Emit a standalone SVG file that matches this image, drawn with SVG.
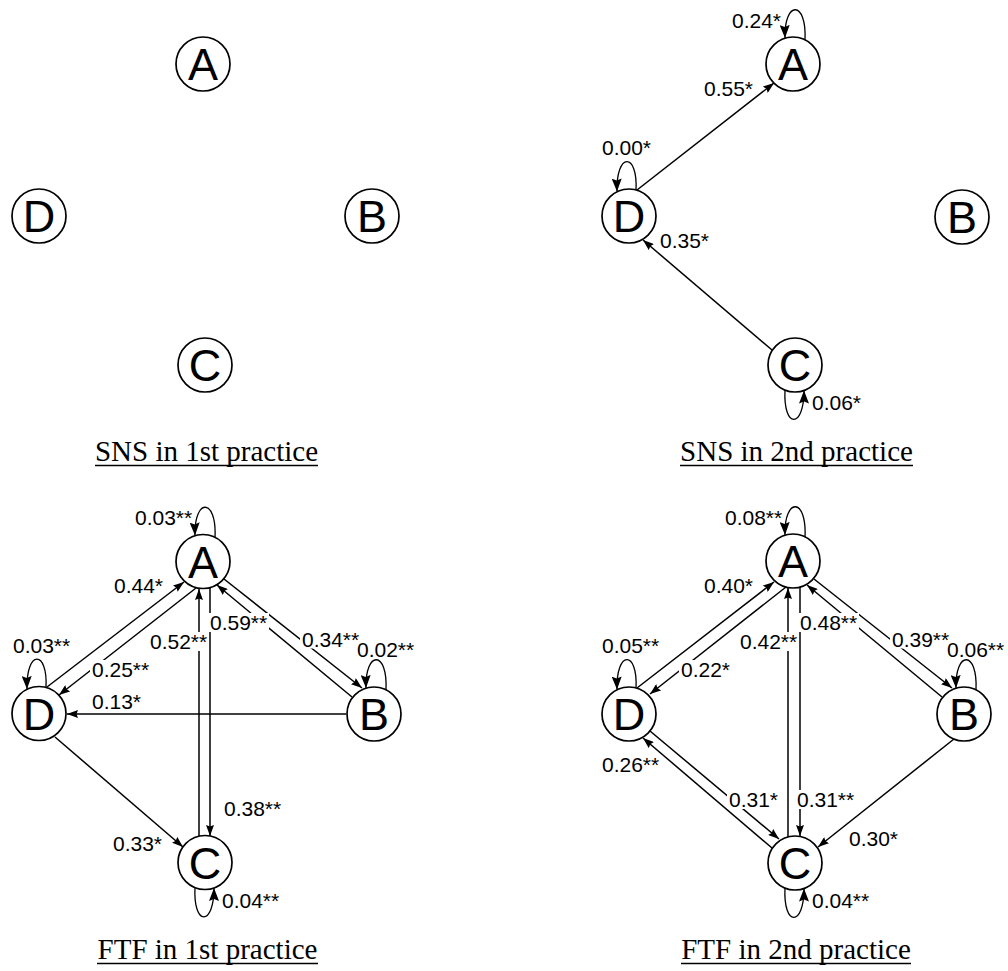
<svg xmlns="http://www.w3.org/2000/svg" width="1008" height="971" viewBox="0 0 1008 971">
<style>
.node circle{fill:#fff;stroke:#000;stroke-width:1.7}
.node text{font-family:"Liberation Sans",Arial,sans-serif;font-size:45px;text-anchor:middle;fill:#000}
.e{fill:none;stroke:#000;stroke-width:1.5;marker-end:url(#ah)}
.lp{fill:none;stroke:#000;stroke-width:1.3;marker-end:url(#ahl)}
.lb{font-family:"Liberation Sans",Arial,sans-serif;font-size:21px;fill:#000}
.bg{fill:#fff}
.cap{font-family:"Liberation Serif","Times New Roman",serif;font-size:29px;text-anchor:middle;fill:#000}
.ul{stroke:#000;stroke-width:1.6}
</style>
<defs>
<marker id="ah" viewBox="0 0 11 8" refX="11" refY="4" markerWidth="11" markerHeight="8" orient="auto" markerUnits="userSpaceOnUse"><path d="M0,0 L11,4 L0,8 L1.5,4 z" fill="#000"/></marker>
<marker id="ahl" viewBox="0 0 13 10" refX="13" refY="5" markerWidth="13" markerHeight="10" orient="auto" markerUnits="userSpaceOnUse"><path d="M0,0 L13,5 L0,10 L2,5 z" fill="#000"/></marker>
</defs>
<rect width="1008" height="971" fill="#fff"/>

<g id="connectors">
<!-- panel 2 -->
<path class="e" d="M637,190 L774,83"/>
<path class="e" d="M772,350 L643,240"/>
<path class="lp" d="M805,40 C807,0 784,0 785,38"/>
<path class="lp" d="M636,190 C638,152 616,152 617,191.5"/>
<path class="lp" d="M785,390 C783,429 804,429 804,390.5"/>
<!-- panel 3 -->
<path class="e" d="M47,687 L184,582"/>
<path class="e" d="M196,588 L59,695"/>
<path class="e" d="M224,579 L362,688"/>
<path class="e" d="M352,697 L217,585"/>
<path class="e" d="M346,714 L67,714"/>
<path class="e" d="M55,737 L183,847"/>
<path class="e" d="M199,836 L199,589"/>
<path class="e" d="M210,587 L210,836"/>
<path class="lp" d="M215,537.5 C217,497.5 194,497.5 195,535.5"/>
<path class="lp" d="M386,690 C388,650 365,650 366,688"/>
<path class="lp" d="M46,687.5 C48,649.5 26,649.5 27,689"/>
<path class="lp" d="M195,887.5 C193,926.5 214,926.5 214,888"/>
<!-- panel 4 -->
<path class="e" d="M637,688 L774,582"/>
<path class="e" d="M786,587 L650,694"/>
<path class="e" d="M814,579 L952,688"/>
<path class="e" d="M942,697 L807,585"/>
<path class="e" d="M788,837 L788,588"/>
<path class="e" d="M800,587 L800,836"/>
<path class="e" d="M772,848 L643,738"/>
<path class="e" d="M650,731 L779,839"/>
<path class="e" d="M954,739 L818,847"/>
<path class="lp" d="M805,537 C807,497 784,497 785,535"/>
<path class="lp" d="M976,690 C978,650 955,650 956,688"/>
<path class="lp" d="M636,688 C638,650 616,650 617,689.5"/>
<path class="lp" d="M785,888 C783,927 804,927 804,888.5"/>
</g>

<g id="labels">
<!-- panel 2 -->
<text class="lb" x="732" y="28">0.24*</text>
<text class="lb" x="704" y="95.5">0.55*</text>
<text class="lb" x="602" y="155">0.00*</text>
<text class="lb" x="660" y="248">0.35*</text>
<text class="lb" x="812" y="410">0.06*</text>
<!-- panel 3 -->
<text class="lb" x="135" y="525">0.03**</text>
<text class="lb" x="114" y="593">0.44*</text>
<rect class="bg" x="208" y="613" width="61" height="19"/>
<text class="lb" x="210" y="630">0.59**</text>
<rect class="bg" x="300" y="629.5" width="61" height="19"/>
<text class="lb" x="302" y="646.5">0.34**</text>
<text class="lb" x="357" y="657">0.02**</text>
<rect class="bg" x="148" y="632" width="61" height="19"/>
<text class="lb" x="150" y="649">0.52**</text>
<text class="lb" x="13" y="652.5">0.03**</text>
<rect class="bg" x="90" y="660" width="61" height="19"/>
<text class="lb" x="92" y="677">0.25**</text>
<text class="lb" x="92" y="709">0.13*</text>
<text class="lb" x="224" y="815.5">0.38**</text>
<text class="lb" x="113" y="850.5">0.33*</text>
<text class="lb" x="222" y="908">0.04**</text>
<!-- panel 4 -->
<text class="lb" x="725" y="525">0.08**</text>
<text class="lb" x="704" y="593">0.40*</text>
<rect class="bg" x="798" y="613" width="61" height="19"/>
<text class="lb" x="800" y="630">0.48**</text>
<rect class="bg" x="890" y="629.5" width="61" height="19"/>
<text class="lb" x="892" y="646.5">0.39**</text>
<text class="lb" x="947" y="657">0.06**</text>
<rect class="bg" x="738" y="632" width="61" height="19"/>
<text class="lb" x="740" y="649">0.42**</text>
<text class="lb" x="602" y="652.5">0.05**</text>
<rect class="bg" x="679" y="660" width="53" height="19"/>
<text class="lb" x="681" y="677">0.22*</text>
<text class="lb" x="602" y="771.5">0.26**</text>
<rect class="bg" x="727" y="790" width="53" height="19"/>
<text class="lb" x="729" y="807">0.31*</text>
<rect class="bg" x="795" y="790" width="61" height="19"/>
<text class="lb" x="797" y="807">0.31**</text>
<text class="lb" x="849" y="845.5">0.30*</text>
<text class="lb" x="812" y="908">0.04**</text>
</g>

<!-- panel 1 nodes -->
<g id="p1-A" class="node"><circle cx="203" cy="64" r="27"/><text x="203" y="80">A</text></g>
<g id="p1-B" class="node"><circle cx="372" cy="216" r="27"/><text x="372" y="232">B</text></g>
<g id="p1-C" class="node"><circle cx="205" cy="365" r="27"/><text x="205" y="381">C</text></g>
<g id="p1-D" class="node"><circle cx="39" cy="216" r="27"/><text x="39" y="232">D</text></g>
<!-- panel 2 nodes -->
<g id="p2-A" class="node"><circle cx="793" cy="64" r="27"/><text x="793" y="80">A</text></g>
<g id="p2-B" class="node"><circle cx="962" cy="217" r="27"/><text x="962" y="233">B</text></g>
<g id="p2-C" class="node"><circle cx="795" cy="365" r="27"/><text x="795" y="381">C</text></g>
<g id="p2-D" class="node"><circle cx="629" cy="216" r="27"/><text x="629" y="232">D</text></g>
<!-- panel 3 nodes -->
<g id="p3-A" class="node"><circle cx="203" cy="561.5" r="27"/><text x="203" y="577.5">A</text></g>
<g id="p3-B" class="node"><circle cx="374" cy="714" r="27"/><text x="374" y="730">B</text></g>
<g id="p3-C" class="node"><circle cx="205" cy="862.5" r="27"/><text x="205" y="878.5">C</text></g>
<g id="p3-D" class="node"><circle cx="39" cy="713.5" r="27"/><text x="39" y="729.5">D</text></g>
<!-- panel 4 nodes -->
<g id="p4-A" class="node"><circle cx="793" cy="561" r="27"/><text x="793" y="577">A</text></g>
<g id="p4-B" class="node"><circle cx="964" cy="714" r="27"/><text x="964" y="730">B</text></g>
<g id="p4-C" class="node"><circle cx="795" cy="863" r="27"/><text x="795" y="879">C</text></g>
<g id="p4-D" class="node"><circle cx="629" cy="714" r="27"/><text x="629" y="730">D</text></g>

<g id="captions">
<text class="cap" x="206.5" y="461">SNS in 1st practice</text>
<line class="ul" x1="95" y1="465.5" x2="318" y2="465.5"/>
<text class="cap" x="796.5" y="461">SNS in 2nd practice</text>
<line class="ul" x1="680" y1="465.5" x2="913" y2="465.5"/>
<text class="cap" x="207.5" y="959">FTF in 1st practice</text>
<line class="ul" x1="97" y1="963.5" x2="318" y2="963.5"/>
<text class="cap" x="796" y="959">FTF in 2nd practice</text>
<line class="ul" x1="681" y1="963.5" x2="911" y2="963.5"/>
</g>
</svg>
